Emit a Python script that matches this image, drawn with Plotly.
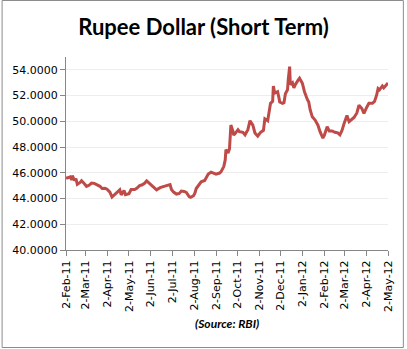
import plotly.graph_objects as go

dates = [
    "2011-02-02","2011-02-04","2011-02-08","2011-02-10","2011-02-11","2011-02-14","2011-02-16","2011-02-18",
    "2011-02-22","2011-02-24","2011-02-28","2011-03-03","2011-03-07","2011-03-10","2011-03-14","2011-03-18",
    "2011-03-22","2011-03-25","2011-03-29","2011-04-01","2011-04-05","2011-04-08","2011-04-12","2011-04-15",
    "2011-04-19","2011-04-21","2011-04-25","2011-04-27","2011-05-02","2011-05-05","2011-05-10","2011-05-13",
    "2011-05-17","2011-05-20","2011-05-24","2011-05-27","2011-05-31","2011-06-03","2011-06-08","2011-06-10",
    "2011-06-15","2011-06-20","2011-06-24","2011-06-29","2011-07-01","2011-07-04","2011-07-08","2011-07-12",
    "2011-07-15","2011-07-19","2011-07-22","2011-07-26","2011-07-28","2011-08-01","2011-08-03","2011-08-05",
    "2011-08-09","2011-08-12","2011-08-17","2011-08-22","2011-08-26","2011-08-30","2011-09-02","2011-09-07",
    "2011-09-09","2011-09-13","2011-09-15","2011-09-16","2011-09-19","2011-09-21","2011-09-22","2011-09-23",
    "2011-09-26","2011-09-27","2011-09-29","2011-10-03","2011-10-05","2011-10-10","2011-10-13","2011-10-17",
    "2011-10-20","2011-10-24","2011-10-27","2011-10-31","2011-11-02","2011-11-04","2011-11-08","2011-11-10",
    "2011-11-14","2011-11-16","2011-11-18","2011-11-21","2011-11-22","2011-11-24","2011-11-28","2011-11-30",
    "2011-12-01","2011-12-05","2011-12-07","2011-12-09","2011-12-12","2011-12-13","2011-12-15","2011-12-16",
    "2011-12-19","2011-12-21","2011-12-23","2011-12-27","2011-12-29","2012-01-02","2012-01-05","2012-01-09",
    "2012-01-11","2012-01-13","2012-01-16","2012-01-20","2012-01-24","2012-01-27","2012-01-31","2012-02-02",
    "2012-02-06","2012-02-09","2012-02-13","2012-02-17","2012-02-21","2012-02-24","2012-02-27","2012-03-01",
    "2012-03-05","2012-03-08","2012-03-12","2012-03-15","2012-03-19","2012-03-22","2012-03-26","2012-03-29",
    "2012-04-02","2012-04-05","2012-04-10","2012-04-13","2012-04-16","2012-04-18","2012-04-20","2012-04-24",
    "2012-04-26","2012-04-30","2012-05-02",
]
rates = [
    45.62,45.60,45.68,45.45,45.78,45.40,45.55,45.10,
    45.25,45.38,45.15,44.95,45.05,45.20,45.18,45.08,
    44.95,44.78,44.80,44.72,44.50,44.12,44.30,44.50,
    44.68,44.28,44.62,44.30,44.38,44.70,44.70,44.80,
    45.00,45.05,45.18,45.37,45.15,45.00,44.75,44.68,
    44.85,44.90,45.00,45.08,44.70,44.50,44.35,44.40,
    44.58,44.55,44.48,44.15,44.10,44.20,44.40,44.78,
    45.10,45.30,45.40,45.90,46.05,45.95,45.90,45.98,
    46.07,46.50,47.00,47.80,47.55,47.85,49.00,49.71,
    49.20,48.93,49.05,49.35,49.20,49.15,48.95,49.35,
    50.05,49.70,49.10,48.85,49.00,49.15,49.30,50.20,
    50.05,50.80,51.40,51.55,52.75,52.20,52.30,51.80,
    51.50,51.40,51.45,52.15,52.45,53.20,54.25,52.85,
    53.00,52.60,52.85,53.20,53.35,52.95,52.30,51.70,
    51.50,50.90,50.35,50.10,49.70,49.20,48.70,48.90,
    49.58,49.25,49.25,49.15,49.10,48.95,49.30,49.84,
    50.45,49.97,50.20,50.30,50.65,51.25,51.00,50.62,
    51.10,51.40,51.40,51.55,52.05,52.55,52.45,52.75,
    52.60,52.90,52.98,
]

tick_dates = ["2011-02-02","2011-03-02","2011-04-02","2011-05-02","2011-06-02","2011-07-02",
              "2011-08-02","2011-09-02","2011-10-02","2011-11-02","2011-12-02","2012-01-02",
              "2012-02-02","2012-03-02","2012-04-02","2012-05-02"]
tick_labels = ["2-Feb-11","2-Mar-11","2-Apr-11","2-May-11","2-Jun-11","2-Jul-11","2-Aug-11",
               "2-Sep-11","2-Oct-11","2-Nov-11","2-Dec-11","2-Jan-12","2-Feb-12","2-Mar-12",
               "2-Apr-12","2-May-12"]
y_ticks = [40, 42, 44, 46, 48, 50, 52, 54]
y_labels = ["40.0000","42.0000","44.0000","46.0000","48.0000","50.0000","52.0000","54.0000"]

W, H = 407, 349
L, R, T, B = 65, 17, 57, 99
pw, ph = W - L - R, H - T - B

fig = go.Figure()
fig.add_trace(go.Scatter(x=dates, y=rates, mode="lines",
                         line=dict(color="#BE4B48", width=3), hoverinfo="skip"))

axis_col = "#868686"
fig.update_layout(
    width=W, height=H,
    margin=dict(l=L, r=R, t=T, b=B),
    paper_bgcolor="white", plot_bgcolor="white",
    showlegend=False,
    title=dict(text="<b>Rupee Dollar (Short Term)</b>", x=0.5, xanchor="center",
               y=1 - 27 / H, yanchor="middle",
               font=dict(family="Lato", size=22, color="black")),
    xaxis=dict(type="date", range=["2011-02-02", "2012-05-02"],
               tickmode="array", tickvals=tick_dates, ticktext=tick_labels,
               tickangle=-90, ticks="outside", ticklen=5, tickcolor=axis_col,
               showline=True, linecolor=axis_col, linewidth=1, showgrid=False,
               zeroline=False, tickfont=dict(family="DejaVu Sans", size=11, color="black")),
    yaxis=dict(range=[40, 55], tickmode="array", tickvals=y_ticks, ticktext=y_labels,
               ticks="outside", ticklen=5, tickcolor=axis_col,
               showline=True, linecolor=axis_col, linewidth=1,
               showgrid=True, gridcolor="#EDEDED", gridwidth=1, zeroline=False,
               tickfont=dict(family="DejaVu Sans", size=11, color="black")),
)

fig.add_annotation(text="<b><i>(Source: RBI)</i></b>", xref="paper", yref="paper",
                   x=0.5, y=-(323 - (T + ph)) / ph, xanchor="center", yanchor="middle",
                   showarrow=False, font=dict(family="Lato", size=12, color="black"))

# outer chart border
fig.add_shape(type="rect", xref="paper", yref="paper",
              x0=-(L - 0.5) / pw, x1=1 + (R - 1.5) / pw,
              y0=-(B - 1.5) / ph, y1=1 + (T - 0.5) / ph,
              line=dict(color="#8C8C8C", width=1), fillcolor="rgba(0,0,0,0)", layer="below")

fig.write_html("out.html")
